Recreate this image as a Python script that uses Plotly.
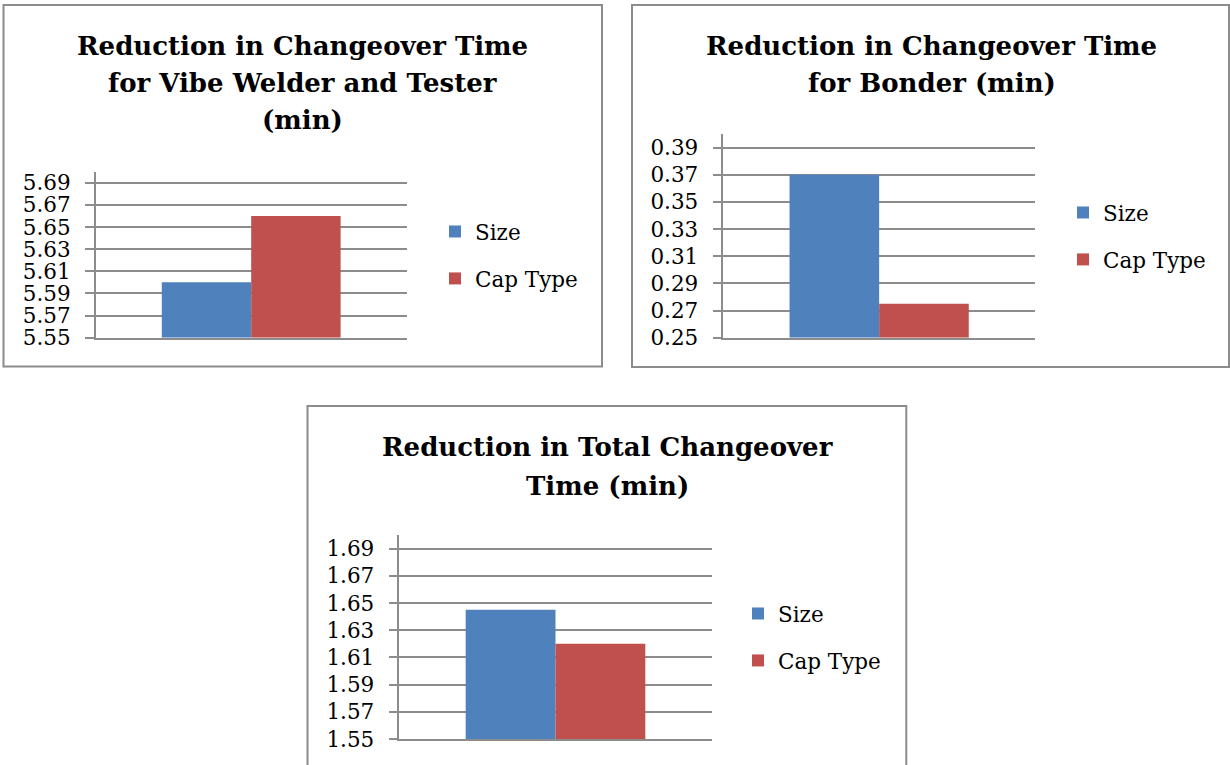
import plotly.graph_objects as go

# ---- data -------------------------------------------------------------
series_names = ["Size", "Cap Type"]
series_colors = ["#4F81BD", "#C0504D"]
category = [""]

vibe_values = [5.60, 5.66]      # Vibe Welder and Tester
bonder_values = [0.37, 0.275]   # Bonder
total_values = [1.645, 1.62]    # Total

vibe_ticks = [5.55, 5.57, 5.59, 5.61, 5.63, 5.65, 5.67, 5.69]
bonder_ticks = [0.25, 0.27, 0.29, 0.31, 0.33, 0.35, 0.37, 0.39]
total_ticks = [1.55, 1.57, 1.59, 1.61, 1.63, 1.65, 1.67, 1.69]

vibe_range = [5.55, 5.70]
bonder_range = [0.25, 0.40]
total_range = [1.55, 1.70]

vibe_title = ["Reduction in Changeover Time", "for Vibe Welder and Tester", "(min)"]
bonder_title = ["Reduction in Changeover Time", "for Bonder (min)"]
total_title = ["Reduction in Total Changeover", "Time (min)"]

# ---- page geometry (pixels) -----------------------------------------
W, H = 1230, 765


def px(x):
    return x / W


def py(y):
    return 1 - y / H


GRAY = "#8c8c8c"
SERIF = "DejaVu Serif"

panels = [
    dict(values=vibe_values, ticks=vibe_ticks, rng=vibe_range, title=vibe_title,
         plot=(95.7, 406.7, 171.7, 337.7), box=(3.5, 602, 5, 366.5),
         title_x=302.5, title_y=[45.5, 83, 119.5], legend_xy=(435, 211)),
    dict(values=bonder_values, ticks=bonder_ticks, rng=bonder_range, title=bonder_title,
         plot=(723.3, 1035, 134, 337.7), box=(632, 1229, 5, 367),
         title_x=931.5, title_y=[45.5, 83], legend_xy=(1063, 192)),
    dict(values=total_values, ticks=total_ticks, rng=total_range, title=total_title,
         plot=(399.3, 711.7, 535, 739), box=(307.5, 906.3, 406, 800),
         title_x=607.5, title_y=[446.5, 486.5], legend_xy=(738, 593)),
]

fig = go.Figure()
layout = dict(
    width=W, height=H,
    margin=dict(l=0, r=0, t=0, b=0, autoexpand=False),
    paper_bgcolor="white", plot_bgcolor="white",
    barmode="group", bargap=0.425, bargroupgap=0,
    showlegend=True,
    annotations=[], shapes=[],
)

for i, p in enumerate(panels):
    n = "" if i == 0 else str(i + 1)
    xa, ya = "x" + n, "y" + n
    leg = "legend" + n
    floor = p["rng"][0]
    for k in range(2):
        # bars rise from the axis floor up to their value
        fig.add_trace(go.Bar(
            x=category, y=[p["values"][k] - floor], base=floor,
            name=series_names[k],
            marker=dict(color=series_colors[k], line=dict(width=0)),
            xaxis=xa, yaxis=ya, legend=leg, legendgroup=f"{leg}_{k}",
            hoverinfo="skip",
        ))

    x0, x1, y0, y1 = p["plot"]
    layout["xaxis" + n] = dict(
        domain=[px(x0), px(x1)], anchor=ya, showline=True, linecolor=GRAY,
        linewidth=1.5, showticklabels=False, ticks="", showgrid=False,
        zeroline=False, fixedrange=True, automargin=False,
    )
    layout["yaxis" + n] = dict(
        domain=[py(y1), py(y0)], anchor=xa, range=p["rng"],
        tickmode="array", tickvals=p["ticks"],
        ticktext=[f"{t:.2f}" for t in p["ticks"]],
        showline=True, linecolor=GRAY, linewidth=1.5,
        showgrid=True, gridcolor=GRAY, gridwidth=1.5,
        ticks="outside", ticklen=9, tickcolor=GRAY, tickwidth=1.5,
        zeroline=False, ticklabelstandoff=10, automargin=False,
        tickfont=dict(family=SERIF, size=21.5, color="black"),
        fixedrange=True,
    )
    lx, ly = p["legend_xy"]
    layout[leg] = dict(
        x=px(lx), y=py(ly), xanchor="left", yanchor="top",
        xref="paper", yref="paper", bgcolor="rgba(0,0,0,0)",
        font=dict(family=SERIF, size=21.5, color="black"),
        tracegroupgap=16, itemclick=False, itemdoubleclick=False,
    )
    bx0, bx1, by0, by1 = p["box"]
    layout["shapes"].append(dict(
        type="rect", xref="paper", yref="paper",
        x0=px(bx0), x1=px(bx1), y0=py(by1), y1=py(by0),
        line=dict(color=GRAY, width=2), fillcolor="rgba(0,0,0,0)", layer="above",
    ))
    for line, ty in zip(p["title"], p["title_y"]):
        layout["annotations"].append(dict(
            text=f"<b>{line}</b>", xref="paper", yref="paper",
            x=px(p["title_x"]), y=py(ty), xanchor="center", yanchor="middle",
            showarrow=False, font=dict(family=SERIF, size=26, color="black"),
        ))

fig.update_layout(**layout)
fig.write_html("out.html")
